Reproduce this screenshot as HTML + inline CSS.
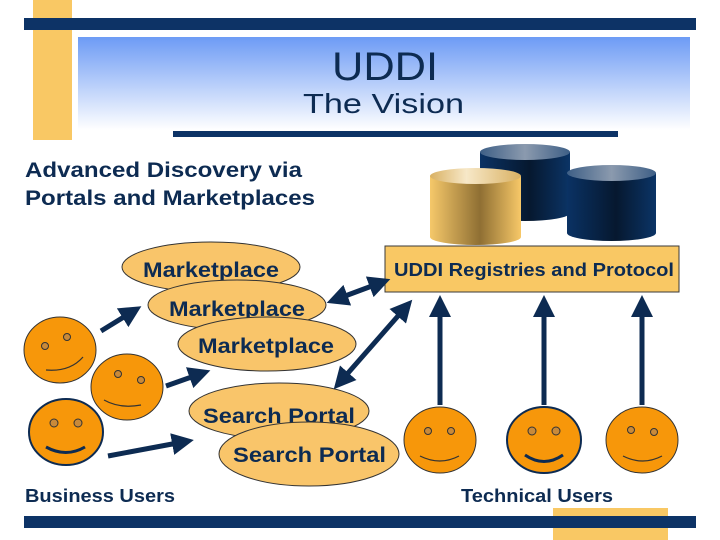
<!DOCTYPE html>
<html><head><meta charset="utf-8"><style>body{margin:0;background:#fff}svg{display:block}text{font-family:"Liberation Sans",sans-serif;fill:#0d2b52}</style></head><body>
<svg width="720" height="540" viewBox="0 0 720 540" xmlns="http://www.w3.org/2000/svg">
<defs>
<linearGradient id="hg" x1="0" y1="0" x2="0" y2="1"><stop offset="0" stop-color="#6d9bf5"/><stop offset="1" stop-color="#ffffff"/></linearGradient>
<linearGradient id="gold" x1="0" y1="0" x2="1" y2="0"><stop offset="0" stop-color="#f5c86a"/><stop offset="0.55" stop-color="#8f6f33"/><stop offset="1" stop-color="#f7c868"/></linearGradient>
<linearGradient id="navy" x1="0" y1="0" x2="1" y2="0"><stop offset="0" stop-color="#0a3264"/><stop offset="0.55" stop-color="#06182f"/><stop offset="1" stop-color="#0b3466"/></linearGradient>
<linearGradient id="ntop" x1="0" y1="0" x2="1" y2="0"><stop offset="0" stop-color="#3e5f86"/><stop offset="0.5" stop-color="#8b9aae"/><stop offset="1" stop-color="#3e5f86"/></linearGradient>
<linearGradient id="gtop" x1="0" y1="0" x2="1" y2="0"><stop offset="0" stop-color="#d9b163"/><stop offset="0.4" stop-color="#f7e8c8"/><stop offset="1" stop-color="#d9b163"/></linearGradient>
<marker id="ah" viewBox="0 0 10 10" refX="5" refY="5" markerWidth="4.4" markerHeight="4.4" orient="auto-start-reverse"><path d="M0,0 L10,5 L0,10 z" fill="#0d2b52"/></marker>
</defs>
<rect x="33" y="0" width="39" height="140" fill="#f9c864"/>
<rect x="24" y="18" width="672" height="12" fill="#0d3366"/>
<rect x="78" y="37" width="612" height="93" fill="url(#hg)"/>
<text x="332" y="80" font-size="40" textLength="106" lengthAdjust="spacingAndGlyphs">UDDI</text>
<text x="303" y="113" font-size="28" textLength="161" lengthAdjust="spacingAndGlyphs">The Vision</text>
<rect x="173" y="131" width="445" height="6" fill="#0d3366"/>
<g font-weight="bold" font-size="21">
<text x="25" y="177" textLength="277" lengthAdjust="spacingAndGlyphs">Advanced Discovery via</text>
<text x="25" y="205" textLength="290" lengthAdjust="spacingAndGlyphs">Portals and Marketplaces</text>
</g>
<rect x="480" y="152" width="90" height="61" fill="url(#navy)"/><ellipse cx="525" cy="213" rx="45" ry="8" fill="url(#navy)"/><ellipse cx="525" cy="152" rx="45" ry="8" fill="url(#ntop)"/>
<rect x="567" y="173" width="89" height="60" fill="url(#navy)"/><ellipse cx="611.5" cy="233" rx="44.5" ry="8" fill="url(#navy)"/><ellipse cx="611.5" cy="173" rx="44.5" ry="8" fill="url(#ntop)"/>
<rect x="430" y="176" width="91" height="61" fill="url(#gold)"/><ellipse cx="475.5" cy="237" rx="45.5" ry="8" fill="url(#gold)"/><ellipse cx="475.5" cy="176" rx="45.5" ry="8" fill="url(#gtop)"/>
<rect x="385" y="246" width="294" height="46" fill="#f9c864" stroke="#3a3a3a" stroke-width="1"/>
<text x="394" y="276" font-size="18" font-weight="bold" textLength="280" lengthAdjust="spacingAndGlyphs">UDDI Registries and Protocol</text>
<g font-size="21" font-weight="bold">
<ellipse cx="211" cy="267" rx="89" ry="25" fill="#f9c56a" stroke="#333"/>
<text x="143" y="277" textLength="136" lengthAdjust="spacingAndGlyphs">Marketplace</text>
<ellipse cx="237" cy="305" rx="89" ry="25" fill="#f9c56a" stroke="#333"/>
<text x="169" y="316" textLength="136" lengthAdjust="spacingAndGlyphs">Marketplace</text>
<ellipse cx="267" cy="344" rx="89" ry="27" fill="#f9c56a" stroke="#333"/>
<text x="198" y="353" textLength="136" lengthAdjust="spacingAndGlyphs">Marketplace</text>
<ellipse cx="279" cy="411" rx="90" ry="28" fill="#f9c56a" stroke="#333"/>
<text x="203" y="423" textLength="152" lengthAdjust="spacingAndGlyphs">Search Portal</text>
<ellipse cx="309" cy="454" rx="90" ry="32" fill="#f9c56a" stroke="#333"/>
<text x="233" y="462" textLength="153" lengthAdjust="spacingAndGlyphs">Search Portal</text>
</g>
<g stroke="#0d2b52" stroke-width="5" fill="none">
<line x1="101" y1="331" x2="132" y2="312" marker-end="url(#ah)"/>
<line x1="166" y1="386" x2="200" y2="374" marker-end="url(#ah)"/>
<line x1="108" y1="456" x2="183" y2="442" marker-end="url(#ah)"/>
<line x1="337" y1="299" x2="380" y2="283" marker-end="url(#ah)" marker-start="url(#ah)"/>
<line x1="341" y1="381" x2="405" y2="308" marker-end="url(#ah)" marker-start="url(#ah)"/>
<line x1="440" y1="405" x2="440" y2="306" marker-end="url(#ah)"/>
<line x1="544" y1="405" x2="544" y2="306" marker-end="url(#ah)"/>
<line x1="642" y1="405" x2="642" y2="306" marker-end="url(#ah)"/>
</g>
<g stroke="#333" stroke-width="1" fill="#f7970a">
<ellipse cx="60" cy="350" rx="36" ry="33"/>
<ellipse cx="127" cy="387" rx="36" ry="33"/>
<ellipse cx="66" cy="432" rx="37" ry="33" stroke="#0d2b52" stroke-width="2"/>
<ellipse cx="440" cy="440" rx="36" ry="33"/>
<ellipse cx="544" cy="440" rx="37" ry="33" stroke="#0d2b52" stroke-width="2"/>
<ellipse cx="642" cy="440" rx="36" ry="33"/>
</g>
<g fill="#c98a3a" stroke="#333" stroke-width="1">
<circle cx="45" cy="346" r="3.5"/><circle cx="67" cy="337" r="3.5"/>
<circle cx="118" cy="374" r="3.5"/><circle cx="141" cy="380" r="3.5"/>
<circle cx="54" cy="423" r="4"/><circle cx="78" cy="423" r="4"/>
<circle cx="428" cy="431" r="3.5"/><circle cx="451" cy="431" r="3.5"/>
<circle cx="532" cy="431" r="4"/><circle cx="556" cy="431" r="4"/>
<circle cx="631" cy="430" r="3.5"/><circle cx="654" cy="432" r="3.5"/>
</g>
<g fill="none" stroke="#333" stroke-width="1.2">
<path d="M46,370 Q70,372 83,357"/><path d="M104,400 Q120,409 141,405"/>
<path d="M46,447 Q66,458 85,447" stroke="#0d2b52" stroke-width="3"/>
<path d="M420,456 Q440,466 459,456"/><path d="M525,455 Q544,468 563,455" stroke="#0d2b52" stroke-width="3"/>
<path d="M623,456 Q643,466 662,456"/>
</g>
<g font-size="18" font-weight="bold">
<text x="25" y="502" textLength="150" lengthAdjust="spacingAndGlyphs">Business Users</text>
<text x="461" y="502" textLength="152" lengthAdjust="spacingAndGlyphs">Technical Users</text>
</g>
<rect x="553" y="508" width="115" height="32" fill="#f9c864"/>
<rect x="24" y="516" width="672" height="12" fill="#0d3366"/>
</svg>
</body></html>
